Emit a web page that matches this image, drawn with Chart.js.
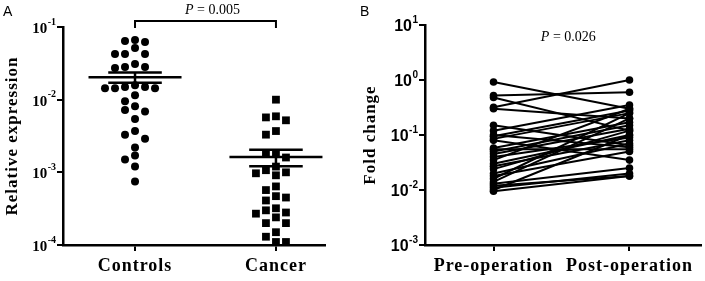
<!DOCTYPE html>
<html>
<head>
<meta charset="utf-8">
<script src="https://cdn.jsdelivr.net/npm/chart.js"></script>
<style>
  html, body { margin: 0; padding: 0; background: #fff; }
  #wrap { position: relative; width: 705px; height: 281px; }
  #chartA { position: absolute; left: 0; top: 0; }
  #chartB { position: absolute; left: 355px; top: 0; }
</style>
</head>
<body>
<div id="wrap">
  <canvas id="chartA" width="350" height="281"></canvas>
  <canvas id="chartB" width="350" height="281"></canvas>
</div>
<script>
// ---- panel A: relative expression ----
const groupsA = ["Controls", "Cancer"];
const controls = [0.0662, 0.0641, 0.0621, 0.0513, 0.0424, 0.0424, 0.0424, 0.0309, 0.0281, 0.0281,
  0.0272, 0.0158, 0.0149, 0.0149, 0.0144, 0.0144, 0.0144, 0.0115, 0.0095, 0.0081,
  0.0072, 0.0069, 0.0054, 0.0037, 0.0033, 0.0029, 0.0022, 0.0017, 0.0015, 0.0012, 0.00075];
const cancer = [0.0100, 0.0059, 0.0057, 0.0052, 0.0037, 0.0033, 0.0018, 0.0018, 0.0016, 0.0012,
  0.00107, 0.0010, 0.00097, 0.00091, 0.00064, 0.00057, 0.00047, 0.00045, 0.00041, 0.00032,
  0.00030, 0.00028, 0.00027, 0.00024, 0.00020, 0.00020, 0.00015, 0.00013, 0.00011, 0.00011];
const meanA = [0.0204, 0.00163];
const semA = [0.0033, 0.00042];
const yTicksA = [1e-4, 1e-3, 1e-2, 1e-1];
const pTextA = "0.005";

// ---- panel B: fold change, paired ----
const phases = ["Pre-operation", "Post-operation"];
const preOp = [0.92, 0.52, 0.48, 0.32, 0.30, 0.15, 0.12, 0.10, 0.095, 0.085,
  0.08, 0.058, 0.055, 0.05, 0.045, 0.04, 0.035, 0.03, 0.027, 0.024,
  0.02, 0.018, 0.016, 0.014, 0.013, 0.012, 0.011, 0.010, 0.0095];
const postOp = [0.30, 0.60, 0.12, 1.0, 0.20, 0.065, 0.35, 0.06, 0.28, 0.25,
  0.035, 0.17, 0.055, 0.15, 0.13, 0.09, 0.30, 0.10, 0.08, 0.12,
  0.07, 0.05, 0.25, 0.20, 0.025, 0.018, 0.02, 0.10, 0.018];
const yTicksB = [1e-3, 1e-2, 1e-1, 1, 10];
const pTextB = "0.026";

const serif = "'Liberation Serif', 'Times New Roman', serif";
const sans = "'Liberation Sans', Arial, sans-serif";

// simple beeswarm: spread points that sit close on the log axis into side-by-side slots
function swarm(values, center, step, gap) {
  const placed = [];
  const out = new Array(values.length);
  const order = values.map((v, i) => i).sort((a, b) => values[b] - values[a]);
  const slots = [0, -1, 1, -2, 2, -3, 3, -4, 4];
  order.forEach(i => {
    const ly = Math.log10(values[i]);
    for (const s of slots) {
      if (!placed.some(p => p.s === s && Math.abs(p.ly - ly) < gap)) {
        placed.push({ s, ly });
        out[i] = { x: center + s * step, y: values[i] };
        break;
      }
    }
  });
  return out;
}

// labels and titles are a little spread out in the original
const spacing = {
  id: 'spacing',
  beforeDraw(chart) { chart.ctx.letterSpacing = '1px'; },
  afterDraw(chart) { chart.ctx.letterSpacing = '0px'; }
};

// "10" with superscript exponent at each y tick
const supTicks = {
  id: 'supTicks',
  afterDraw(chart, args, o) {
    const ctx = chart.ctx, ys = chart.scales.y;
    ctx.save();
    ctx.letterSpacing = '0px';
    ctx.fillStyle = '#000';
    ctx.textBaseline = 'middle';
    ys.ticks.forEach(t => {
      const py = ys.getPixelForValue(t.value);
      const exp = String(Math.round(Math.log10(t.value)));
      const right = ys.right - o.gap;
      ctx.font = o.sup;
      const ew = ctx.measureText(exp).width;
      ctx.textAlign = 'left';
      ctx.fillText(exp, right - ew, py - o.rise);
      ctx.font = o.base;
      ctx.textAlign = 'right';
      ctx.fillText('10', right - ew - 0.5, py + o.drop);
    });
    ctx.restore();
  }
};

// panel letter and P value text
const notes = {
  id: 'notes',
  afterDraw(chart, args, o) {
    const ctx = chart.ctx, xs = chart.scales.x;
    ctx.save();
    ctx.letterSpacing = '0px';
    ctx.fillStyle = '#000';
    ctx.strokeStyle = '#000';
    ctx.font = "14px " + sans;
    ctx.textBaseline = 'middle';
    ctx.textAlign = 'left';
    ctx.fillText(o.letter, o.letterX, 12);

    // P = value, italic P
    ctx.font = "italic 14px " + serif;
    const pw = ctx.measureText('P').width;
    ctx.font = "14px " + serif;
    const rest = ' = ' + o.p;
    const rw = ctx.measureText(rest).width;
    const cx = xs.getPixelForValue(o.pAt);
    const x0 = cx - (pw + rw) / 2;
    ctx.font = "italic 14px " + serif;
    ctx.fillText('P', x0, o.pY);
    ctx.font = "14px " + serif;
    ctx.fillText(rest, x0 + pw, o.pY);

    if (o.bracket) {
      const a = xs.getPixelForValue(1), b = xs.getPixelForValue(2);
      const top = chart.chartArea.top;
      ctx.lineWidth = 2;
      ctx.beginPath();
      ctx.moveTo(a, top + 1);
      ctx.lineTo(a, top - 6);
      ctx.lineTo(b, top - 6);
      ctx.lineTo(b, top + 1);
      ctx.stroke();
    }
    ctx.restore();
  }
};

// mean with SEM whiskers
const meanSem = {
  id: 'meanSem',
  afterDatasetsDraw(chart) {
    const ctx = chart.ctx, xs = chart.scales.x, ys = chart.scales.y;
    ctx.save();
    ctx.strokeStyle = '#000';
    ctx.lineWidth = 2.5;
    meanA.forEach((m, i) => {
      const c = i + 1;
      const my = ys.getPixelForValue(m);
      const hi = ys.getPixelForValue(m + semA[i]);
      const lo = ys.getPixelForValue(m - semA[i]);
      ctx.beginPath();
      ctx.moveTo(xs.getPixelForValue(c - 0.33), my);
      ctx.lineTo(xs.getPixelForValue(c + 0.33), my);
      ctx.moveTo(xs.getPixelForValue(c - 0.19), hi);
      ctx.lineTo(xs.getPixelForValue(c + 0.19), hi);
      ctx.moveTo(xs.getPixelForValue(c - 0.19), lo);
      ctx.lineTo(xs.getPixelForValue(c + 0.19), lo);
      ctx.moveTo(xs.getPixelForValue(c), hi);
      ctx.lineTo(xs.getPixelForValue(c), lo);
      ctx.stroke();
    });
    ctx.restore();
  }
};

const xLabelFont = { family: serif, size: 18, weight: 'bold' };
const titleFont = { family: serif, size: 17, weight: 'bold' };

new Chart(document.getElementById('chartA'), {
  type: 'scatter',
  data: {
    datasets: [
      { label: groupsA[0], data: swarm(controls, 1, 0.071, 0.11), pointStyle: 'circle',
        pointRadius: 4, backgroundColor: '#000', borderColor: '#000', borderWidth: 0 },
      { label: groupsA[1], data: swarm(cancer, 2, 0.071, 0.11), pointStyle: 'rect',
        pointRadius: 5.5, backgroundColor: '#000', borderColor: '#000', borderWidth: 0 }
    ]
  },
  options: {
    responsive: false,
    animation: false,
    clip: false,
    layout: { padding: { top: 27, right: 25, left: 0, bottom: 0 } },
    plugins: {
      legend: { display: false },
      tooltip: { enabled: false },
      supTicks: { base: "bold 15px " + serif, sup: "bold 10px " + serif, gap: 7, rise: 5, drop: 2 },
      notes: { letter: 'A', letterX: 3, p: pTextA, pAt: 1.55, pY: 10, bracket: true }
    },
    scales: {
      x: {
        type: 'linear', min: 0.489, max: 2.348,
        afterBuildTicks: s => { s.ticks = groupsA.map((g, i) => ({ value: i + 1 })); },
        afterFit: s => { s.height = 36; },
        ticks: { callback: v => groupsA[v - 1], font: xLabelFont, color: '#000', padding: 5,
                 autoSkip: false, maxRotation: 0 },
        grid: { drawOnChartArea: false, tickLength: 6, color: '#000', lineWidth: 2 },
        border: { color: '#000', width: 2.5 }
      },
      y: {
        type: 'logarithmic', min: 1e-4, max: 1e-1,
        afterBuildTicks: s => { s.ticks = yTicksA.map(v => ({ value: v })); },
        afterFit: s => { s.width = 63; },
        ticks: { display: false },
        grid: { drawOnChartArea: false, tickLength: 6, color: '#000', lineWidth: 2 },
        border: { color: '#000', width: 2.5 },
        title: { display: true, text: 'Relative expression', font: titleFont, color: '#000',
                 padding: { top: 2, bottom: 0 } }
      }
    }
  },
  plugins: [spacing, supTicks, notes, meanSem]
});

new Chart(document.getElementById('chartB'), {
  type: 'scatter',
  data: {
    datasets: preOp.map((p, i) => ({
      data: [{ x: 1, y: p }, { x: 2, y: postOp[i] }],
      showLine: true,
      borderColor: '#000',
      backgroundColor: '#000',
      borderWidth: 2,
      pointRadius: 3.8,
      pointBorderWidth: 0
    }))
  },
  options: {
    responsive: false,
    animation: false,
    clip: false,
    layout: { padding: { top: 25, right: 2, left: 0, bottom: 0 } },
    plugins: {
      legend: { display: false },
      tooltip: { enabled: false },
      supTicks: { base: "bold 16px " + sans, sup: "bold 10px " + sans, gap: 7, rise: 5, drop: 2 },
      notes: { letter: 'B', letterX: 5, p: pTextB, pAt: 1.55, pY: 37, bracket: false }
    },
    scales: {
      x: {
        type: 'linear', min: 0.496, max: 2.526,
        afterBuildTicks: s => { s.ticks = phases.map((g, i) => ({ value: i + 1 })); },
        afterFit: s => { s.height = 36; },
        ticks: { callback: v => phases[v - 1], font: xLabelFont, color: '#000', padding: 5,
                 autoSkip: false, maxRotation: 0 },
        grid: { drawOnChartArea: false, tickLength: 6, color: '#000', lineWidth: 2 },
        border: { color: '#000', width: 2.5 }
      },
      y: {
        type: 'logarithmic', min: 1e-3, max: 10,
        afterBuildTicks: s => { s.ticks = yTicksB.map(v => ({ value: v })); },
        afterFit: s => { s.width = 70; },
        ticks: { display: false },
        grid: { drawOnChartArea: false, tickLength: 6, color: '#000', lineWidth: 2 },
        border: { color: '#000', width: 2.5 },
        title: { display: true, text: 'Fold change', font: titleFont,
                 color: '#000', padding: { top: 5, bottom: 0 } }
      }
    }
  },
  plugins: [spacing, supTicks, notes]
});
</script>
</body>
</html>
